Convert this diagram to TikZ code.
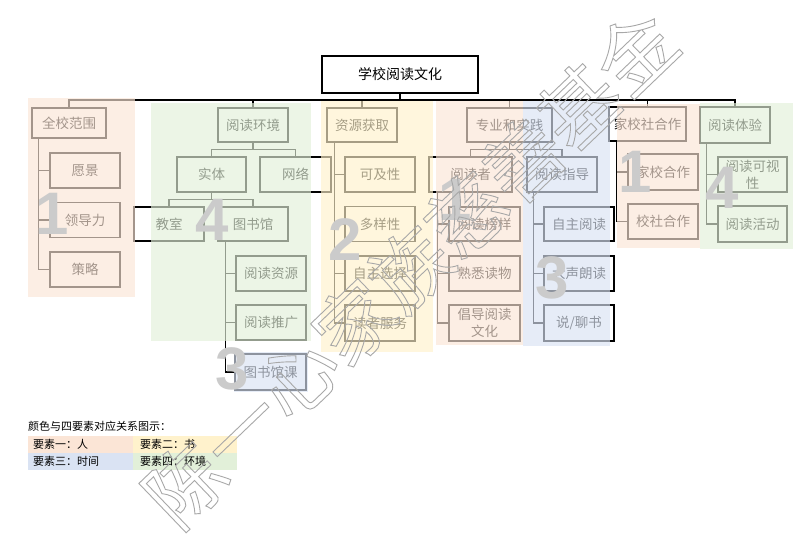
\documentclass[tikz,border=0pt]{standalone}
\usepackage{fontspec}
\setmainfont{Noto Sans CJK SC}
\newfontfamily\numfont{Liberation Sans}
\definecolor{pinkc}{HTML}{FBE5D6}
\definecolor{yellowc}{HTML}{FFF2CC}
\definecolor{bluec}{HTML}{DAE3F3}
\definecolor{greenc}{HTML}{E2F0D9}
\definecolor{numgray}{HTML}{CBCBCB}
\definecolor{wmgray}{HTML}{A8A8A8}
\newcommand{\outlinetext}[1]{\special{pdf:literal direct 1 Tr 0.9 w}#1\special{pdf:literal direct 0 Tr}}
\begin{document}
\begin{tikzpicture}[x=1pt,y=-1pt,
  bx/.style={draw=black, fill=white, line width=1.1pt, minimum width=70pt, minimum height=35pt,
     inner sep=1pt, align=center, font=\fontsize{13.5}{17}\selectfont},
  ln/.style={line width=1.1pt},
  ov/.style={fill opacity=0.65},
  big/.style={text=numgray, inner sep=0pt, font=\numfont\bfseries\fontsize{60}{60}\selectfont},
  lg/.style={anchor=west, inner sep=0pt, font=\fontsize{11}{11}\selectfont}]
\useasboundingbox (0,0) rectangle (800,535);
\fill[white] (0,0) rectangle (800,535);

% ---------- boxes ----------
\node[bx, minimum width=156pt, minimum height=37pt, font=\fontsize{14}{17}\selectfont] (root) at (400,74.5) {学校阅读文化};

\node[bx, minimum width=74pt, minimum height=30pt] (a) at (69,123) {全校范围};
\node[bx] (a1) at (85,170.5) {愿景};
\node[bx] (a2) at (85,220) {领导力};
\node[bx] (a3) at (85,269.5) {策略};

\node[bx, minimum height=34pt] (b) at (253,125) {阅读环境};
\node[bx, minimum width=69pt] (b1) at (211.5,174.5) {实体};
\node[bx, minimum width=71pt] (b2) at (295.5,174.5) {网络};
\node[bx, minimum height=34pt] (b11) at (169,224) {教室};
\node[bx, minimum height=34pt] (b12) at (253,224) {图书馆};
\node[bx] (b121) at (271,273.5) {阅读资源};
\node[bx] (b122) at (271,322.5) {阅读推广};
\node[bx, minimum width=71pt, minimum height=36pt] (b123) at (270.5,372) {图书馆课};

\node[bx, minimum height=34pt] (c) at (362,125) {资源获取};
\node[bx] (c1) at (380,174.5) {可及性};
\node[bx] (c2) at (380,224) {多样性};
\node[bx] (c3) at (380,273.5) {自主选择};
\node[bx, minimum height=36pt] (c4) at (380,323) {读者服务};

\node[bx, minimum width=85pt, minimum height=34pt] (d) at (509.5,125) {专业和实践};
\node[bx, minimum width=83pt] (d1) at (470.5,174.5) {阅读者};
\node[bx] (d2) at (562,174.5) {阅读指导};
\node[bx, minimum width=71pt, minimum height=34pt] (d11) at (484.5,224) {阅读榜样};
\node[bx, minimum width=71pt] (d12) at (484.5,273.5) {熟悉读物};
\node[bx, minimum width=71pt, minimum height=36pt] (d13) at (484.5,323) {倡导阅读\\文化};
\node[bx, minimum height=34pt] (d21) at (579,224) {自主阅读};
\node[bx] (d22) at (579,273.5) {大声朗读};
\node[bx, minimum height=36pt] (d23) at (579,323) {说/聊书};

\node[bx, minimum width=77pt, minimum height=34pt] (e) at (647.5,124) {家校社合作};
\node[bx, minimum height=36pt] (e1) at (663,172) {家校合作};
\node[bx] (e2) at (663,221.5) {校社合作};

\node[bx, minimum height=36pt] (f) at (735,125) {阅读体验};
\node[bx, minimum width=69pt] (f1) at (752.5,174.5) {阅读可视\\性};
\node[bx, minimum width=69pt, minimum height=36pt] (f2) at (752.5,224) {阅读活动};

% ---------- connectors ----------
\coordinate (bus) at (0,100);
\coordinate (bbus) at (0,149.5);
\coordinate (b1bus) at (0,199.5);
\draw[ln, line width=1.4pt] (a.north) -- (a.north |- bus) -- (f.north |- bus) -- (f.north);
\draw[ln] (root.south) -- (root.south |- bus);
\foreach \n in {b,c,d,e} \draw[ln] (\n.north) -- (\n.north |- bus);

\draw[ln] (b.south) -- (b.south |- bbus);
\draw[ln] (b1.north) -- (b1.north |- bbus) -- (b2.north |- bbus) -- (b2.north);
\draw[ln] (b1.south) -- (b1.south |- b1bus);
\draw[ln] (b11.north) -- (b11.north |- b1bus) -- (b12.north |- b1bus) -- (b12.north);
\draw[ln] (d.south) -- (d.south |- bbus);
\draw[ln] (d1.north) -- (d1.north |- bbus) -- (d2.north |- bbus) -- (d2.north);

\coordinate (av) at ([xshift=7pt]a.south west);
\draw[ln] (av) |- (a3.west);
\foreach \n in {a1,a2} \draw[ln] (\n.west) -- (\n.west -| av);

\coordinate (bv) at ([xshift=8pt]b12.south west);
\draw[ln] (bv) |- (b123.west);
\foreach \n in {b121,b122} \draw[ln] (\n.west) -- (\n.west -| bv);

\coordinate (cv) at ([xshift=8pt]c.south west);
\draw[ln] (cv) |- (c4.west);
\foreach \n in {c1,c2,c3} \draw[ln] (\n.west) -- (\n.west -| cv);

\coordinate (dv) at ([xshift=9pt]d1.south west);
\draw[ln] (dv) |- (d13.west);
\foreach \n in {d11,d12} \draw[ln] (\n.west) -- (\n.west -| dv);

\coordinate (ev) at ([xshift=7pt]d2.south west);
\draw[ln] (ev) |- (d23.west);
\foreach \n in {d21,d22} \draw[ln] (\n.west) -- (\n.west -| ev);

\coordinate (gv) at ([xshift=8pt]e.south west);
\draw[ln] (gv) |- (e2.west);
\draw[ln] (e1.west) -- (e1.west -| gv);

\coordinate (hv) at ([xshift=7pt]f.south west);
\draw[ln] (hv) |- (f2.west);
\draw[ln] (f1.west) -- (f1.west -| hv);

% ---------- colour overlays ----------
\fill[pinkc, ov] (28,98) rectangle (135,297);
\fill[greenc, ov] (151,103) rectangle (311,341);
\fill[bluec, ov] (234,352) rectangle (308,392);
\fill[yellowc, ov] (321,101) rectangle (433,352);
\fill[pinkc, ov] (436,101) rectangle (523,345);
\fill[bluec, ov] (523,101) rectangle (610,346);
\fill[pinkc, ov] (617,104) rectangle (699.5,248);
\fill[greenc, ov] (699.5,103) rectangle (793,249);

% ---------- element numbers ----------
\node[big] (n1a) at (52,214) {1};
\node[big] (n4a) at (212,220) {4};
\node[big] (n3a) at (232,369) {3};
\node[big] (n2) at (345,240) {2};
\node[big] (n1b) at (455,200) {1};
\node[big] (n3b) at (552,278) {3};
\node[big] (n1c) at (635,172) {1};
\node[big] (n4b) at (722,188) {4};

% ---------- legend ----------
\node[lg] (lt) at (28,426) {颜色与四要素对应关系图示：};
\fill[pinkc] (28,436) rectangle (133,453);
\fill[yellowc] (133,436) rectangle (237,453);
\fill[bluec] (28,453) rectangle (133,470);
\fill[greenc] (133,453) rectangle (237,470);
\node[lg] (l1) at (33,444.5) {要素一：人};
\node[lg] (l2) at (140,444.5) {要素二：书};
\node[lg] (l3) at (33,461.5) {要素三：时间};
\node[lg] (l4) at (140,461.5) {要素四：环境};

% ---------- watermark ----------
\node[rotate=43.8, text=wmgray, inner sep=0pt, font=\fontsize{78}{78}\selectfont] (wm) at (410,268) {\outlinetext{陈一心家族慈善基金}};
\end{tikzpicture}
\end{document}
